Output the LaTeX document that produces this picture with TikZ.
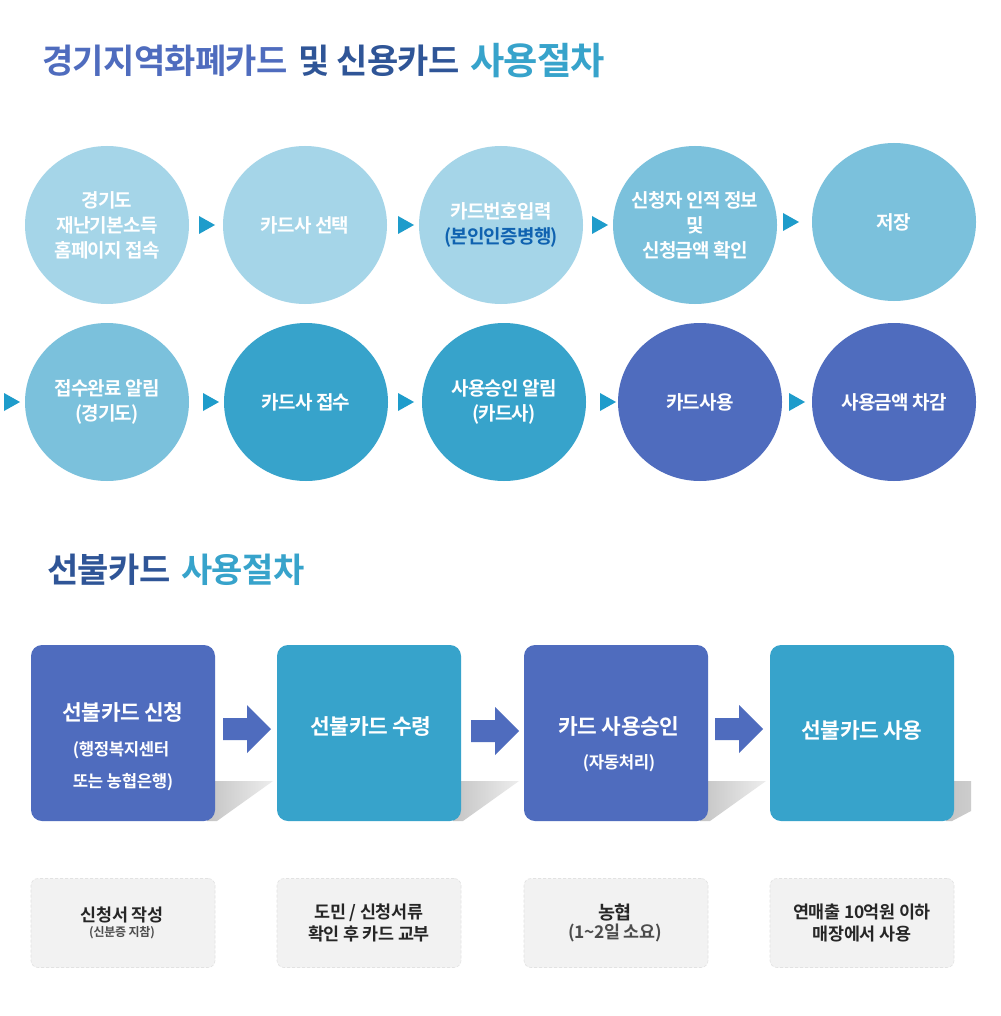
\documentclass[tikz,border=0pt]{standalone}
\usepackage{fontspec}
\setmainfont{Noto Sans CJK KR}[BoldFont={Noto Sans CJK KR Bold}]
\newfontfamily\krb{Noto Sans CJK KR Bold}[LetterSpace=-4]
\newfontfamily\krt{Noto Sans CJK KR Bold}[LetterSpace=-2]
\usetikzlibrary{shapes.geometric}
\definecolor{cblue}{HTML}{4F6CBE}
\definecolor{cteal}{HTML}{37A3CB}
\definecolor{clight}{HTML}{A5D5E8}
\definecolor{cmid}{HTML}{7BC1DC}
\definecolor{cnavy}{HTML}{2F5597}
\definecolor{cbright}{HTML}{0F62B0}
\definecolor{ctri}{HTML}{1E9CCB}
\definecolor{csoft}{HTML}{F2F2F2}
\definecolor{cedge}{HTML}{E2E2E2}
\definecolor{cshad}{HTML}{C4C4C4}
\tikzset{
  x=1pt,y=-1pt,
  circ/.style={ellipse,minimum width=164pt,minimum height=158pt,inner sep=-15pt,text=white,align=center,font=\krb\fontsize{19}{25}\selectfont},
  sqbox/.style={rounded corners=11pt,minimum width=184pt,minimum height=176pt,inner sep=0pt},
  notebox/.style={rounded corners=7pt,minimum width=184pt,minimum height=89pt,inner sep=0pt,fill=csoft,draw=cedge,densely dashed,line width=.6pt},
  boxtext/.style={text=white,align=center,font=\krt\fontsize{21.4}{24}\selectfont,inner sep=0pt},
  boxsub/.style={text=white,align=center,font=\krt\fontsize{16.7}{16}\selectfont,inner sep=0pt},
  notetext/.style={text=black!85,align=center,font=\krt\fontsize{17.4}{22}\selectfont,inner sep=0pt},
  heading/.style={anchor=base west,inner sep=0pt,font=\krt\fontsize{34}{36}\selectfont},
  headbig/.style={anchor=base west,inner sep=0pt,font=\krt\fontsize{37.3}{38}\selectfont},
  tritip/.style={fill=ctri},
  bigarrow/.style={fill=cblue},
}
\newcommand{\tip}[2]{\fill[tritip] (#1,#2-9) -- (#1+16,#2) -- (#1,#2+9) -- cycle;}
\newcommand{\barrow}[2]{\fill[bigarrow] (#1,#2-11) -- (#1+24,#2-11) -- (#1+24,#2-24) -- (#1+48,#2) -- (#1+24,#2+24) -- (#1+24,#2+11) -- (#1,#2+11) -- cycle;}
\newcommand{\shad}[1]{\shade[left color=cshad,right color=cshad!30] (#1,781) -- (#1+66,781) -- (#1+10,821) -- (#1,821) -- cycle;}
\begin{document}
\begin{tikzpicture}
\useasboundingbox (0,0) rectangle (1000,1016);
\fill[white] (0,0) rectangle (1000,1016);
% titles
\node[heading,text=cblue] (t1a) at (42,74) {경기지역화폐카드};
\node[heading,text=cnavy] (t1b) at (298,74) {및 신용카드};
\node[headbig,text=cteal] (t1c) at (470,74.5) {사용절차};
\node[heading,text=cnavy] (t2a) at (47,582.5) {선불카드};
\node[heading,text=cteal] (t2b) at (181,582.5) {사용절차};
% circles row 1
\node[circ,fill=clight] (c1) at (107,225) {경기도\\재난기본소득\\홈페이지 접속};
\node[circ,fill=clight] (c2) at (305,225) {카드사 선택};
\node[circ,fill=clight] (c3) at (501,225) {카드번호입력\\\textcolor{cbright}{(본인인증병행)}};
\node[circ,fill=cmid] (c4) at (695,225) {신청자 인적 정보\\및\\신청금액 확인};
\node[circ,fill=cmid] (c5) at (894,222) {저장};
% circles row 2
\node[circ,fill=cmid] (d1) at (107,402) {접수완료 알림\\(경기도)};
\node[circ,fill=cteal] (d2) at (306,402) {카드사 접수};
\node[circ,fill=cteal] (d3) at (504,402) {사용승인 알림\\(카드사)};
\node[circ,fill=cblue] (d4) at (700,402) {카드사용};
\node[circ,fill=cblue] (d5) at (894,402) {사용금액 차감};
% triangles
\tip{199}{225}\tip{398}{225}\tip{592}{225}\tip{783}{222}
\tip{4}{402}\tip{203}{402}\tip{398}{402}\tip{600}{402}\tip{789}{402}
% shadows
\shad{207}\shad{453}\shad{700}
\shade[left color=cshad,right color=cshad!85] (946,781) -- (971,781) -- (971,811) -- (952,821) -- (946,821) -- cycle;
% boxes
\node[sqbox,fill=cblue] (b1) at (123,733) {};
\node[sqbox,fill=cteal] (b2) at (369,733) {};
\node[sqbox,fill=cblue] (b3) at (616,733) {};
\node[sqbox,fill=cteal] (b4) at (862,733) {};
\node[boxtext] (b1a) at (123,712) {선불카드 신청};
\node[boxsub] (b1b) at (121,750) {(행정복지센터};
\node[boxsub] (b1c) at (123,782) {또는 농협은행)};
\node[boxtext] (b2a) at (371,726) {선불카드 수령};
\node[boxtext] (b3a) at (619,726) {카드 사용승인};
\node[boxsub] (b3b) at (619,763) {(자동처리)};
\node[boxtext] (b4a) at (862,730) {선불카드 사용};
% big arrows
\barrow{223}{729}\barrow{471}{731}\barrow{715}{729}
% note boxes
\node[notebox] (n1) at (123,923) {};
\node[notebox] (n2) at (369,923) {};
\node[notebox] (n3) at (616,923) {};
\node[notebox] (n4) at (862,923) {};
\node[notetext] (n1a) at (122,915) {신청서 작성};
\node[notetext,font=\krt\fontsize{12}{12}\selectfont,text=black!70] (n1b) at (122,933) {(신분증 지참)};
\node[notetext] (n2a) at (369,923) {도민 / 신청서류\\확인 후 카드 교부};
\node[notetext,font=\krt\fontsize{18.5}{22}\selectfont] (n3a) at (615,912) {농협};
\node[notetext,text=black!70] (n3b) at (615,933) {(1\textasciitilde 2일 소요)};
\node[notetext] (n4a) at (862,923) {연매출 10억원 이하\\매장에서 사용};
\end{tikzpicture}
\end{document}
